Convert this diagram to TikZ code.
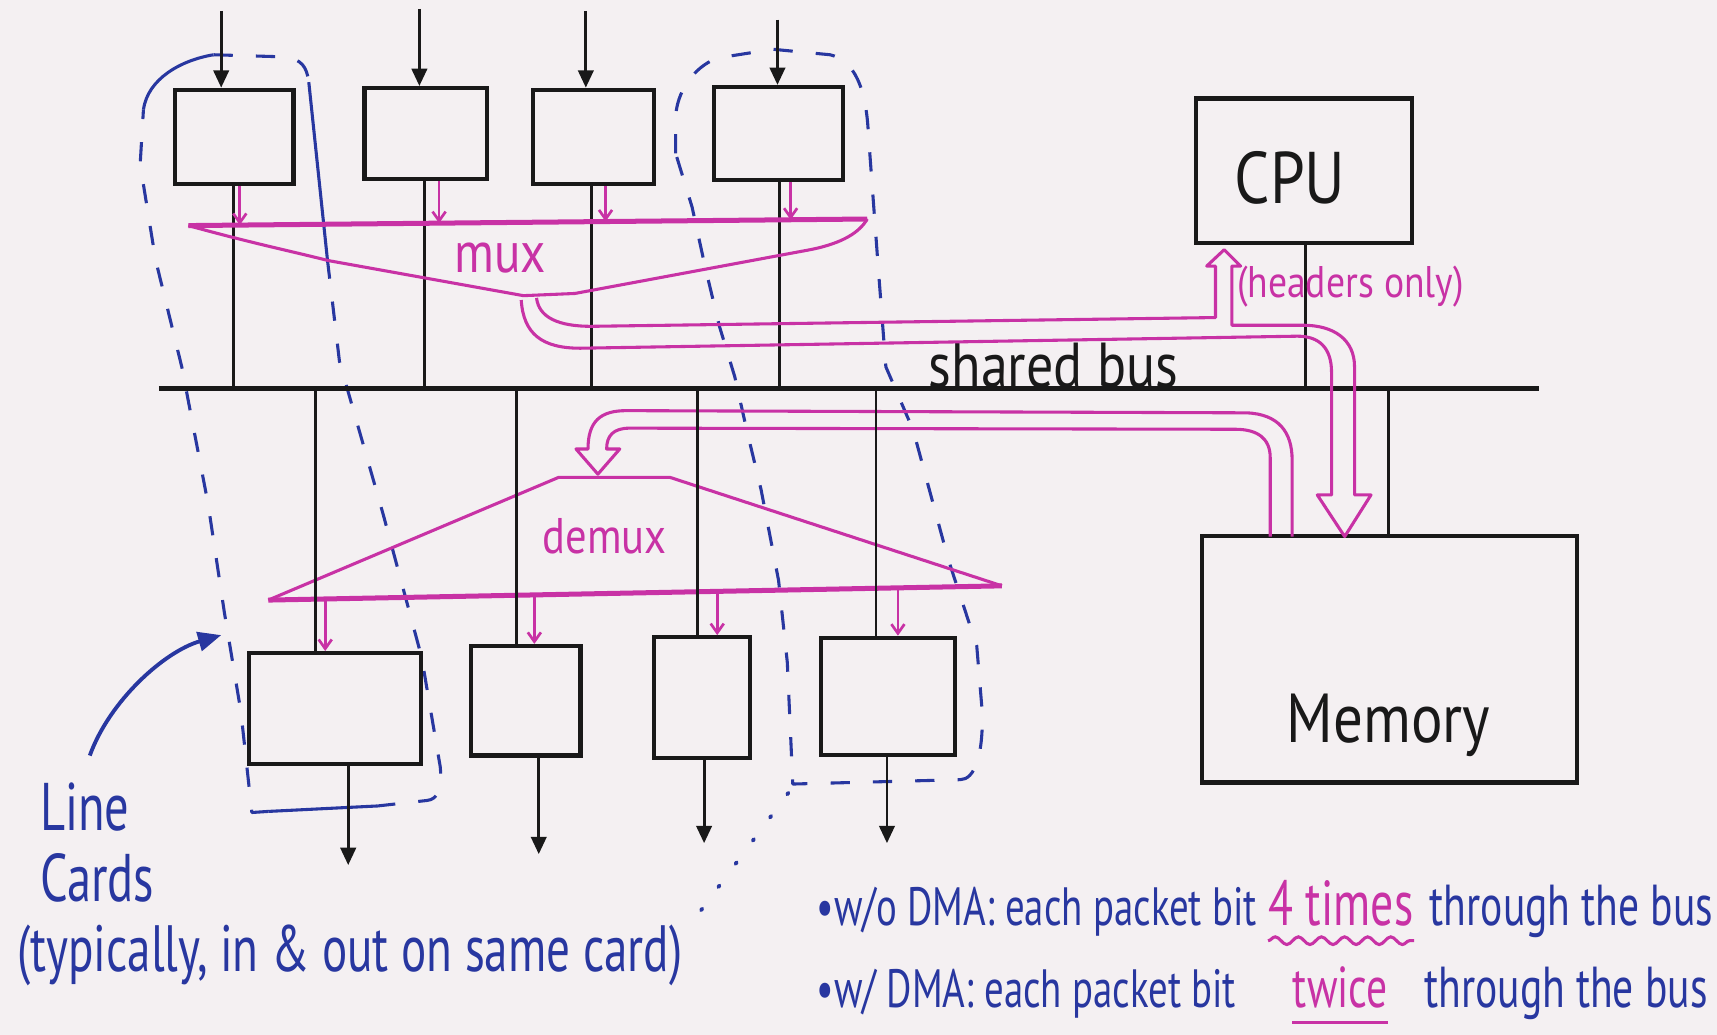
\documentclass[tikz,border=0pt]{standalone}
\usepackage{fontspec}
\setmainfont{PT Sans}
\newfontfamily\hand[FakeStretch=0.72]{PT Sans}
\newfontfamily\handb[FakeStretch=0.85]{PT Sans}
\usetikzlibrary{arrows.meta,decorations.pathmorphing}

\definecolor{ink}{RGB}{25,25,25}
\definecolor{mag}{RGB}{200,50,165}
\definecolor{pen}{RGB}{40,55,160}
\definecolor{paper}{RGB}{244,240,242}

\begin{document}
\begin{tikzpicture}[x=0.01cm,y=-0.01cm,
  box/.style 2 args={draw=ink,line width=1.1pt,minimum width=#1,minimum height=#2,inner sep=0pt},
  wire/.style={draw=ink,line width=0.75pt},
  feed/.style={wire,-{Triangle[length=4.5pt,width=4pt]}},
  busline/.style={draw=ink,line width=1.4pt},
  flow/.style={draw=mag,line width=0.8pt,line join=round},
  flowbar/.style={draw=mag,line width=1.3pt},
  tick/.style={draw=mag,line width=0.7pt,-{Straight Barb[length=2.4pt,width=3.4pt]}},
  card/.style={draw=pen,line width=0.8pt,dash pattern=on 5pt off 6pt,line join=round},
  cardsolid/.style={draw=pen,line width=0.8pt},
  lbl/.style={inner sep=0pt,text=ink},
  note/.style={inner sep=0pt,anchor=base west,text=pen}
]
\useasboundingbox (0,0) rectangle (1568,945);
\fill[paper] (0,0) rectangle (1568,945);

% ---- line-card ownership (dashed outlines) ----
% card with first input and first output
\draw[cardsolid] (131,100) .. controls (135,72) and (165,55) .. (195,50);
\draw[card] (195,50) -- (262,52) .. controls (275,55) and (280,60) .. (282,75);
\draw[cardsolid] (282,75) -- (299,237);
\draw[card] (299,237) -- (310,330) -- (350,470) -- (385,600) -- (402,700)
  .. controls (404,720) and (400,730) .. (390,731) -- (345,736);
\draw[cardsolid] (345,736) -- (245,741);
\draw[card] (245,741) -- (230,742) -- (220,650) -- (205,560) -- (190,460)
  -- (166,335) -- (142,237) -- (128,150) -- (131,100);
% card with fourth input and fourth output
\draw[card] (617,140) -- (617,107) .. controls (618,85) and (632,62) .. (655,53)
  -- (706,45) -- (758,50) .. controls (780,55) and (791,80) .. (793,122)
  -- (802,244) -- (809,335) -- (834,393) -- (866,511) -- (892,590) -- (897,650)
  .. controls (898,690) and (890,712) .. (877,712) -- (724,716) -- (719,605)
  -- (711,530) -- (695,447) -- (682,393) -- (671,344) -- (657,298) -- (644,244)
  -- (632,189) -- cycle;

% ---- input ports ----
\node[box={1.08cm}{0.86cm}] (in1) at (214,125) {};
\node[box={1.12cm}{0.83cm}] (in2) at (389,122) {};
\node[box={1.10cm}{0.86cm}] (in3) at (542,125) {};
\node[box={1.18cm}{0.85cm}] (in4) at (711,122) {};

\coordinate (src1) at (202,10);
\coordinate (src2) at (383,8);
\coordinate (src3) at (535,10);
\coordinate (src4) at (710,18);
\draw[feed] (src1) -- (src1 |- in1.north);
\draw[feed] (src2) -- (src2 |- in2.north);
\draw[feed] (src3) -- (src3 |- in3.north);
\draw[feed] (src4) -- (src4 |- in4.north);

% ---- shared bus ----
\coordinate (busL) at (145,355);
\coordinate (busR) at (1405,355);
\draw[busline] (busL) -- (busR);
\node[lbl,font=\handb\fontsize{16.5}{16.5}\selectfont] (buslbl) at (962,334) {shared bus};

\coordinate (tapI1) at (213,355);
\coordinate (tapI2) at (388,355);
\coordinate (tapI3) at (540,355);
\coordinate (tapI4) at (712,355);
\draw[wire] (in1.south -| tapI1) -- (tapI1);
\draw[wire] (in2.south -| tapI2) -- (tapI2);
\draw[wire] (in3.south -| tapI3) -- (tapI3);
\draw[wire] (in4.south -| tapI4) -- (tapI4);

% ---- mux ----
\coordinate (muxL) at (172,206);
\coordinate (muxR) at (792,200);
\draw[flowbar] (muxL) -- (muxR);
\draw[flow] (muxL) .. controls (230,222) and (260,228) .. (300,238) -- (478,270)
  -- (525,268) -- (740,228) .. controls (770,222) and (785,212) .. (muxR);
\node[lbl,text=mag,font=\handb\fontsize{15}{15}\selectfont] (muxlbl) at (457,236) {mux};

\coordinate (mIn1) at (219,205.5);
\coordinate (mIn2) at (401,203.8);
\coordinate (mIn3) at (553,202.3);
\coordinate (mIn4) at (722,200.7);
\draw[tick] (in1.south -| mIn1) -- (mIn1);
\draw[tick] (in2.south -| mIn2) -- (mIn2);
\draw[tick] (in3.south -| mIn3) -- (mIn3);
\draw[tick] (in4.south -| mIn4) -- (mIn4);

% ---- CPU and memory ----
\node[box={1.97cm}{1.32cm}] (cpu) at (1191,156) {};
\node[lbl,font=\handb\fontsize{19}{19}\selectfont] (cpulbl) at (1178,162) {CPU};
\node[box={3.42cm}{2.25cm}] (mem) at (1269,602) {};
\node[lbl,font=\handb\fontsize{18}{18}\selectfont] (memlbl) at (1268,662) {Memory};
\coordinate (tapC) at (1192,355);
\coordinate (tapM) at (1268,355);
\draw[wire] (cpu.south -| tapC) -- (tapC);
\draw[wire] (tapM) -- (tapM |- mem.north);

% ---- packet path: mux -> memory, headers up to the CPU ----
\draw[flow] (476,274) .. controls (478,305) and (495,318) .. (530,318) -- (1185,307)
  .. controls (1205,307) and (1216,318) .. (1216,340) -- (1216,452) -- (1203,452)
  -- (1228,490) -- (1252,452) -- (1237,452) -- (1237,335)
  .. controls (1237,310) and (1218,297) .. (1190,297) -- (1125,297) -- (1125,243)
  -- (1133,243) -- (1118,228) -- (1102,243) -- (1110,243) -- (1110,290)
  -- (540,298) .. controls (510,298) and (492,290) .. (490,272);
\node[lbl,text=mag,font=\handb\fontsize{11.5}{11.5}\selectfont,anchor=west] (hdr) at (1129,262) {(headers only)};

% ---- packet path: memory -> demux ----
\draw[flow] (1160,490) -- (1160,418) .. controls (1160,400) and (1148,392) .. (1128,392)
  -- (575,391) .. controls (560,391) and (554,398) .. (554,410) -- (566,410)
  -- (546,433) -- (526,410) -- (537,410) .. controls (537,385) and (548,375) .. (572,375)
  -- (1138,377) .. controls (1168,378) and (1180,395) .. (1180,420) -- (1180,490);

% ---- demux ----
\coordinate (dmL) at (245,548);
\coordinate (dmR) at (915,535);
\draw[flowbar] (dmL) -- (dmR);
\draw[flow] (dmL) -- (510,436) -- (612,436) -- (dmR);
\node[lbl,text=mag,font=\handb\fontsize{13}{13}\selectfont] (dmlbl) at (552,490) {demux};

% ---- output ports ----
\node[box={1.57cm}{1.01cm}] (out1) at (306,647) {};
\node[box={1.00cm}{1.00cm}] (out2) at (480,640) {};
\node[box={0.88cm}{1.10cm}] (out3) at (641,637) {};
\node[box={1.22cm}{1.07cm}] (out4) at (811,636) {};

\coordinate (tapO1) at (288,355);
\coordinate (tapO2) at (472,355);
\coordinate (tapO3) at (637,355);
\coordinate (tapO4) at (800,355);
\draw[wire] (tapO1) -- (tapO1 |- out1.north);
\draw[wire] (tapO2) -- (tapO2 |- out2.north);
\draw[wire] (tapO3) -- (tapO3 |- out3.north);
\draw[wire] (tapO4) -- (tapO4 |- out4.north);

\coordinate (dOut1) at (297,547);
\coordinate (dOut2) at (488,543.3);
\coordinate (dOut3) at (655,540);
\coordinate (dOut4) at (820,536.8);
\draw[tick] (dOut1) -- (dOut1 |- out1.north);
\draw[tick] (dOut2) -- (dOut2 |- out2.north);
\draw[tick] (dOut3) -- (dOut3 |- out3.north);
\draw[tick] (dOut4) -- (dOut4 |- out4.north);

\coordinate (sink1) at (318,790);
\coordinate (sink2) at (492,780);
\coordinate (sink3) at (643,770);
\coordinate (sink4) at (810,770);
\draw[feed] (out1.south -| sink1) -- (sink1);
\draw[feed] (out2.south -| sink2) -- (sink2);
\draw[feed] (out3.south -| sink3) -- (sink3);
\draw[feed] (out4.south -| sink4) -- (sink4);

% ---- line card notes ----
\node[inner sep=0pt,text=pen,anchor=north west,align=left,
      font=\hand\fontsize{17.5}{18.5}\selectfont] (lc) at (36,714) {Line\\Cards};
\node[note,font=\hand\fontsize{17}{17}\selectfont] (cardnote) at (15,887) {(typically, in \& out on same card)};
\coordinate (lcfrom) at (82,690);
\coordinate (lcto) at (202,580);
\draw[pen,line width=1pt,-{Triangle[length=6pt,width=5pt]}] (lcfrom) .. controls (100,640) and (150,595) .. (lcto);
\coordinate (cardcorner) at (720,724);
\draw[pen,line width=1pt,line cap=round,dash pattern=on 0.5pt off 7pt] (cardcorner) -- ([xshift=2pt]cardnote.north east);

% ---- DMA remarks ----
\node[note,font=\hand\fontsize{14}{14}\selectfont] (w1a) at (745,845) {\textbullet w/o DMA: each packet bit};
\node[note,text=mag,font=\hand\fontsize{16.5}{16.5}\selectfont] (w1b) at (1158,845) {4 times};
\node[note,font=\hand\fontsize{15}{15}\selectfont] (w1c) at (1305,845) {through the bus};
\draw[mag,line width=0.8pt,decorate,decoration={snake,amplitude=1pt,segment length=6pt}]
  ([yshift=-4pt]w1b.base west) -- ([yshift=-4pt]w1b.base east);

\node[note,font=\hand\fontsize{14}{14}\selectfont] (w2a) at (745,920) {\textbullet w/ DMA: each packet bit};
\node[note,text=mag,font=\hand\fontsize{15}{15}\selectfont] (w2b) at (1180,920) {twice};
\node[note,font=\hand\fontsize{15}{15}\selectfont] (w2c) at (1300,920) {through the bus};
\draw[mag,line width=0.8pt] ([yshift=-4pt]w2b.base west) -- ([yshift=-4pt]w2b.base east);
\end{tikzpicture}
\end{document}
